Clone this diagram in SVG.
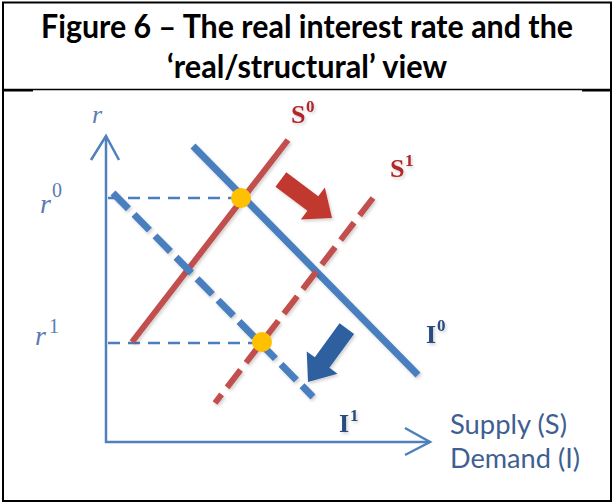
<svg xmlns="http://www.w3.org/2000/svg" width="614" height="503" viewBox="0 0 614 503">
<style>
.title{font-family:Lato,"Open Sans","Liberation Sans",sans-serif;font-weight:bold;font-size:32px;fill:#000}
.axis{stroke:#4F81BD;stroke-width:2.5;fill:none}
.blue{stroke:#4A7EBF;stroke-width:7;fill:none}
.red{stroke:#C0504D;stroke-width:6;fill:none}
.bdash{stroke:#4A7EBF;stroke-width:7;fill:none;stroke-dasharray:22 8}
.rdash{stroke:#C0504D;stroke-width:6;fill:none;stroke-dasharray:22 9}
.hdash{stroke:#4A7EBF;stroke-width:2.5;fill:none;stroke-dasharray:12 8}
.rlab{font-family:"Liberation Serif",serif;font-style:italic;fill:#5A7DB3}
.rsup{font-family:"Liberation Serif",serif;fill:#5A7DB3}
.slab{font-family:"Liberation Serif",serif;font-weight:bold;fill:#B0252A}
.ilab{font-family:"Liberation Serif",serif;font-weight:bold;fill:#2A4C7F}
.axlab{font-family:Lato,"Open Sans","Liberation Sans",sans-serif;font-size:27px;fill:#3F5F92}
.dot{fill:#FFC000}
</style>
<defs>
<filter id="sh" x="-20%" y="-20%" width="140%" height="140%">
<feDropShadow dx="1.5" dy="2" stdDeviation="1.5" flood-color="#000" flood-opacity="0.18"/>
</filter>
</defs>
<rect x="3" y="2.5" width="608" height="498.5" fill="#fff" stroke="#000" stroke-width="2"/>
<line x1="3" y1="89.5" x2="611" y2="89.5" stroke="#000" stroke-width="1.5"/>
<rect x="3" y="89" width="30" height="2.5" fill="#000"/>
<rect x="582" y="89" width="29" height="2.5" fill="#000"/>
<g id="title">
<text class="title" x="307" y="38" text-anchor="middle" textLength="532" lengthAdjust="spacingAndGlyphs">Figure 6 – The real interest rate and the</text>
<text class="title" x="307" y="78" text-anchor="middle" textLength="280" lengthAdjust="spacingAndGlyphs">‘real/structural’ view</text>
</g>
<g id="axes">
<polyline class="axis" points="106,136 106,442 430,442"/>
<polyline class="axis" points="91,160 106,136 119,160"/>
<polyline class="axis" points="405,428 430,442 405,455"/>
<text class="rlab" x="92" y="123" font-size="26">r</text>
<text class="rlab" x="40" y="213" font-size="28">r</text>
<text class="rsup" x="52" y="197" font-size="20">0</text>
<text class="rlab" x="35" y="345" font-size="28">r</text>
<text class="rsup" x="49" y="333" font-size="20">1</text>
<text class="axlab" x="450" y="434" textLength="117" lengthAdjust="spacingAndGlyphs">Supply (S)</text>
<text class="axlab" x="450" y="468" textLength="130" lengthAdjust="spacingAndGlyphs">Demand (I)</text>
</g>
<g id="connectors">
<line class="hdash" x1="108" y1="198" x2="236" y2="198"/>
<line class="hdash" x1="108" y1="343" x2="258" y2="343"/>
</g>
<g id="S0" filter="url(#sh)">
<line class="red" x1="132" y1="342" x2="288" y2="140"/>
<text class="slab" x="291" y="123" font-size="26">S</text>
<text class="slab" x="306" y="112" font-size="17">0</text>
</g>
<g id="I0" filter="url(#sh)">
<line class="blue" x1="193" y1="146" x2="418" y2="375"/>
<text class="ilab" x="426" y="343" font-size="26">I</text>
<text class="ilab" x="437" y="331" font-size="17">0</text>
</g>
<g id="S1" filter="url(#sh)">
<line class="rdash" x1="373" y1="198" x2="215" y2="403"/>
<text class="slab" x="390" y="177" font-size="26">S</text>
<text class="slab" x="405" y="166" font-size="17">1</text>
</g>
<g id="I1" filter="url(#sh)">
<line class="bdash" x1="113" y1="193" x2="313" y2="397"/>
<text class="ilab" x="339" y="432" font-size="26">I</text>
<text class="ilab" x="350" y="421" font-size="17">1</text>
</g>
<g id="shift-S" filter="url(#sh)">
<polygon fill="#C0392F" transform="translate(332,218) rotate(37)" points="0,0 -24,-20 -24,-9 -64,-9 -64,9 -24,9 -24,20"/>
</g>
<g id="shift-I" filter="url(#sh)">
<polygon fill="#2E5E9F" transform="translate(308,382) rotate(126)" points="0,0 -24,-19 -24,-9 -66,-9 -66,9 -24,9 -24,19"/>
</g>
<g id="eq0"><circle class="dot" cx="241" cy="198" r="10"/></g>
<g id="eq1"><circle class="dot" cx="262" cy="342" r="10"/></g>
</svg>
